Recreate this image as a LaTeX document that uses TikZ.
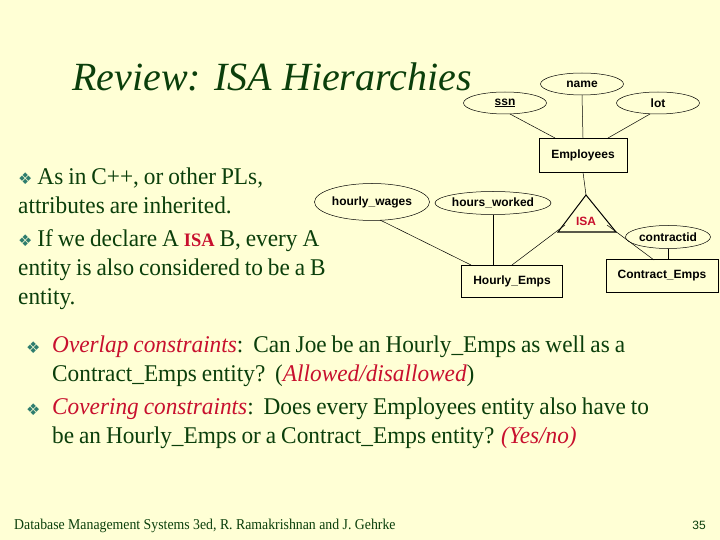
\documentclass[tikz,border=0pt]{standalone}
\usepackage{fontspec}
\setmainfont{Liberation Serif}
\newfontfamily\dia{Liberation Sans}
\newfontfamily\djv{DejaVu Sans}
\newfontfamily\narrow[FakeStretch=0.92]{Liberation Serif}
\newfontfamily\cond[FakeStretch=0.97,WordSpace=0.85]{Liberation Serif}
\usetikzlibrary{shapes.geometric}
\definecolor{bg}{HTML}{FFFFD5}
\definecolor{tg}{HTML}{0B3F0B}
\definecolor{rd}{HTML}{C8102E}
\definecolor{bl}{HTML}{2E7D6E}
\newcommand{\bul}{{\color{bl}\djv\fontsize{16}{16}\selectfont ❖}}
\begin{document}
\begin{tikzpicture}[x=1pt,y=-1pt,
  attr/.style={draw,ellipse,line width=0.5pt,inner sep=0pt,font=\dia\bfseries\fontsize{12}{14}\selectfont},
  ent/.style={draw,rectangle,line width=0.5pt,inner sep=0pt,font=\dia\bfseries\fontsize{12}{14}\selectfont},
  ln/.style={line width=0.5pt},
  body/.style={anchor=north west,align=left,inner sep=0pt,text=tg,font=\cond\fontsize{24}{29}\selectfont}]
\fill[bg] (0,0) rectangle (720,540);
\useasboundingbox (0,0) rectangle (720,540);
\node[anchor=base west,inner sep=0pt,font=\itshape\fontsize{40}{44}\selectfont,text=tg] (title) at (72,91) {Review: ISA Hierarchies};
% diagram
\node[attr,minimum width=83,minimum height=22] (name) at (582,84) {name};
\node[attr,minimum width=83,minimum height=22] (ssn) at (505,103) {\underline{ssn}};
\node[attr,minimum width=83,minimum height=22] (lot) at (658,103) {lot};
\node[ent,minimum width=88,minimum height=34] (emp) at (583,155) {Employees};
\node[attr,minimum width=113,minimum height=23] (hw) at (493,203) {hours\_worked};
\node[attr,minimum width=115,minimum height=37] (hwg) at (372,202) {hourly\_wages};
\node[attr,minimum width=85,minimum height=23] (cid) at (668,237) {contractid};
\node[ent,minimum width=101,minimum height=32] (he) at (512,281) {Hourly\_Emps};
\node[ent,minimum width=112,minimum height=33] (ce) at (662,276) {Contract\_Emps};
\coordinate (ta) at (586,195);
\coordinate (tl) at (558,232);
\coordinate (tr) at (616,232);
\draw[line width=1pt] (ta)--(tl)--(tr)--cycle;
\node[font=\dia\bfseries\fontsize{12}{14}\selectfont,text=rd] (isa) at (586,221) {ISA};
\draw[ln] (name.south)--(emp.north);
\coordinate (s1) at (510,114);
\draw[ln] (s1)--(555,138);
\coordinate (l1) at (650,114);
\draw[ln] (l1)--(608,138);
\draw[ln] (emp.south)--(ta);
\draw[ln] (565,225) coordinate (i1) -- (512,265) coordinate (h1);
\draw[ln] (607,225) coordinate (i2) -- (654,260) coordinate (c1);
\draw[ln] (hw.south) -- (hw.south|-he.north);
\draw[ln] (cid.south) -- (cid.south|-ce.north);
\draw[ln] (380,220) coordinate (w1) -- (471,265) coordinate (w2);
% text
\node[body] (b1) at (18,168) {\bul\ As in C++, or other PLs,\\attributes are inherited.};
\node[body] (b2) at (18,229) {\bul\ If we declare A {\color{rd}\bfseries\fontsize{19}{20}\selectfont ISA} B, every A\\entity is also considered to be a B\\entity.};
\node[body] (b3) at (52,336) {{\color{rd}\itshape Overlap constraints}:\ \ Can Joe be an Hourly\_Emps as well as a\\Contract\_Emps entity?\ \ ({\color{rd}\itshape Allowed/disallowed})};
\node[anchor=north west,inner sep=0pt] (d3) at (26,342) {\bul};
\node[body] (b4) at (52,398) {{\color{rd}\itshape Covering constraints}:\ \ Does every Employees entity also have to\\be an Hourly\_Emps or a Contract\_Emps entity? {\color{rd}\itshape (Yes/no)}};
\node[anchor=north west,inner sep=0pt] (d4) at (26,404) {\bul};
\node[anchor=base west,inner sep=0pt,text=tg,font=\narrow\fontsize{15}{16}\selectfont] (foot) at (14,529) {Database Management Systems 3ed,\ R. Ramakrishnan and J. Gehrke};
\node[anchor=base east,inner sep=0pt,text=tg,font=\dia\fontsize{12}{14}\selectfont] (pg) at (706,529) {35};
\end{tikzpicture}
\end{document}
